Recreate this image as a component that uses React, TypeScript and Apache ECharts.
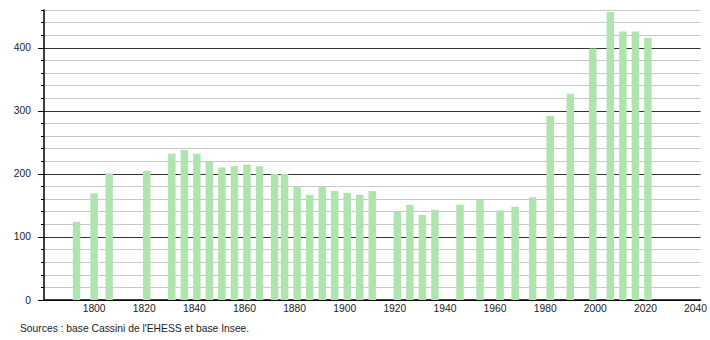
import React, { useEffect, useRef } from "react";
import * as echarts from "echarts";

const years = [1793, 1800, 1806, 1821, 1831, 1836, 1841, 1846, 1851, 1856, 1861, 1866, 1872, 1876, 1881, 1886, 1891, 1896, 1901, 1906, 1911, 1921, 1926, 1931, 1936, 1946, 1954, 1962, 1968, 1975, 1982, 1990, 1999, 2006, 2011, 2016, 2021];
const population = [124, 169, 201, 205, 232, 238, 232, 219, 210, 212, 215, 212, 200, 200, 179, 167, 179, 173, 170, 167, 173, 140, 151, 135, 143, 151, 159, 142, 148, 163, 292, 327, 399, 457, 426, 426, 416];
const xTickLabels = [1800, 1820, 1840, 1860, 1880, 1900, 1920, 1940, 1960, 1980, 2000, 2020, 2040];
const yTickLabels = [0, 100, 200, 300, 400];
const sourceText = "Sources : base Cassini de l'EHESS et base Insee.";

export default function App() {
  const ref = useRef<HTMLDivElement>(null);
  useEffect(() => {
    document.body.style.margin = "0";
    const chart = echarts.init(ref.current!, null, { renderer: "svg" });
    const font = "'Liberation Sans', Arial, sans-serif";
    chart.setOption({
      animation: false,
      grid: { left: 44, right: 9, top: 10, bottom: 40 },
      xAxis: {
        type: "value",
        min: 1780,
        max: 2042,
        interval: 20,
        axisLine: { lineStyle: { color: "#000", width: 1.5 } },
        axisTick: { show: false },
        splitLine: { show: false },
        axisLabel: {
          customValues: xTickLabels,
          formatter: (v: number) => String(v),
          color: "#222",
          fontSize: 10.3,
          fontFamily: font,
          margin: 3,
        },
      },
      yAxis: [
        {
          type: "value",
          min: 0,
          max: 460,
          interval: 20,
          axisLine: { show: true, lineStyle: { color: "#000", width: 1.5 } },
          axisTick: { show: true, length: 3, lineStyle: { color: "#000" } },
          axisLabel: { show: false },
          splitLine: {
            show: true,
            lineStyle: { color: ["#333", "#c8c8c8", "#c8c8c8", "#c8c8c8", "#c8c8c8"], width: 1 },
          },
        },
        {
          type: "value",
          position: "left",
          min: 0,
          max: 460,
          interval: 100,
          axisLine: { show: false },
          axisTick: { show: true, length: 6, customValues: yTickLabels, lineStyle: { color: "#000" } },
          splitLine: { show: false },
          axisLabel: {
            customValues: yTickLabels,
            formatter: (v: number) => String(v),
            color: "#222",
            fontSize: 10.3,
            fontFamily: font,
            margin: 13,
          },
        },
      ],
      series: [
        {
          type: "bar",
          yAxisIndex: 0,
          barWidth: 7.5,
          itemStyle: { color: "#afe4af" },
          data: years.map((y, i) => [y, population[i]]),
        },
      ],
      graphic: [
        {
          type: "text",
          left: 20,
          top: 323,
          style: { text: sourceText, fill: "#222", fontSize: 10.3, fontFamily: font },
        },
      ],
    });
    return () => chart.dispose();
  }, []);
  return <div ref={ref} style={{ width: 710, height: 340 }} />;
}
